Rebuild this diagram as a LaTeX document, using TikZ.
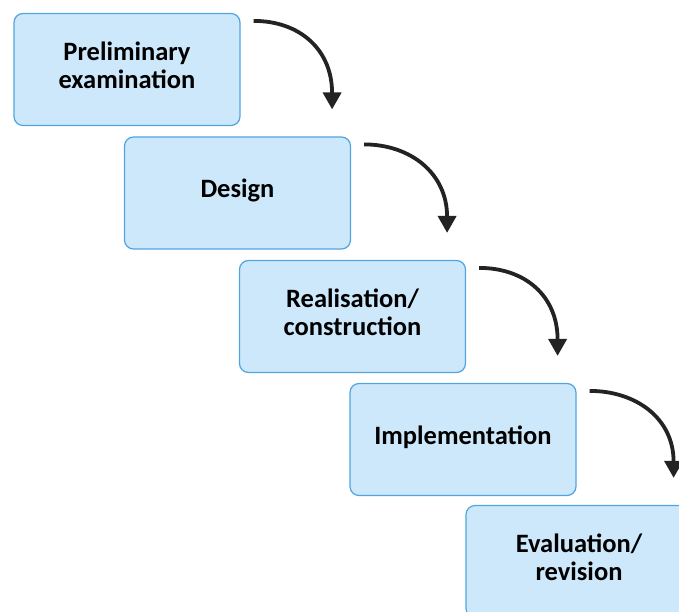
\documentclass[tikz,border=0pt]{standalone}
\usepackage{fontspec}
\setmainfont{Carlito}
\definecolor{stepfill}{RGB}{205, 232, 250}
\definecolor{stepframe}{RGB}{80, 165, 225}
\definecolor{arrowdark}{RGB}{35, 35, 35}
\usetikzlibrary{
    arrows.meta,
    calc
}
\tikzstyle{phase} = [
    rectangle,
    rounded corners=9pt,
    draw=stepframe,
    line width=1.2pt,
    fill=stepfill,
    align=center,
    text depth=9pt,
    minimum height=112pt,
    minimum width=226pt,
    font=\fontsize{26.5}{28.5}\selectfont\bfseries
]
\tikzstyle{flow} = [
    -{Triangle[width=18pt,length=17pt]},
    draw=arrowdark,
    line width=3.8pt
]

\begin{document}
\begin{tikzpicture}[x=1pt, y=-1pt]
    \useasboundingbox (0,0) rectangle (679,612);
    \clip (0,0) rectangle (679,612);

    % Phases, stepping down to the right
    \node[phase] (prelim) at (127,69.5) {Preliminary\\examination};
    \node[phase] (design) at (237.5,193) {Design};
    \node[phase] (realise) at (352.5,316.5) {Realisation/\\construction};
    \node[phase] (implement) at (463,439.5) {Implementation};
    \node[phase] (evaluate) at (579,561.5) {Evaluation/\\revision};

    % Curved arrows between phases
    \draw[flow] ($(prelim.north east)+(13,8)$) .. controls +(46,0) and +(0,-60) .. ($(design.north east)+(-19,-27)$);
    \draw[flow] ($(design.north east)+(13,8)$) .. controls +(46,0) and +(0,-60) .. ($(realise.north east)+(-19,-27)$);
    \draw[flow] ($(realise.north east)+(13,8)$) .. controls +(46,0) and +(0,-60) .. ($(implement.north east)+(-19,-27)$);
    \draw[flow] ($(implement.north east)+(13,8)$) .. controls +(46,0) and +(0,-60) .. ($(evaluate.north east)+(-19,-27)$);

\end{tikzpicture}
\end{document}
